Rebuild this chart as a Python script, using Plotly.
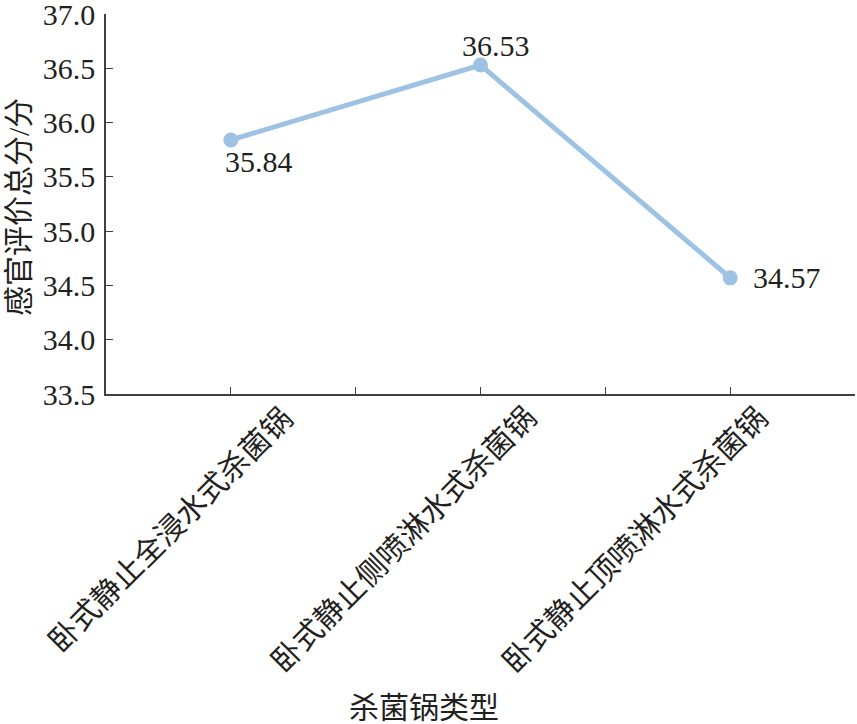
import plotly.graph_objects as go

categories = ["卧式静止全浸水式杀菌锅", "卧式静止侧喷淋水式杀菌锅", "卧式静止顶喷淋水式杀菌锅"]
scores = [35.84, 36.53, 34.57]
y_ticks = [33.5, 34.0, 34.5, 35.0, 35.5, 36.0, 36.5, 37.0]

# label placement styles (pixels)
label_shift_x = [28, 15, 57]
label_shift_y = [-22, 20, 0]
cat_label_shift_x = [68, 62, 44]

y_title = "感官评价总分/分"
x_title = "杀菌锅类型"

FONT = "Liberation Serif, Times New Roman, Noto Sans CJK SC, serif"
TXT = "#231f20"
LINE = "#9dc2e4"
AX = "#404040"

xpos = list(range(len(categories)))

fig = go.Figure()
fig.add_trace(go.Scatter(
    x=xpos, y=scores, mode="lines+markers",
    line=dict(color=LINE, width=5),
    marker=dict(color=LINE, size=15),
    showlegend=False, hoverinfo="skip",
))

for x, v, dx, dy in zip(xpos, scores, label_shift_x, label_shift_y):
    fig.add_annotation(x=x, y=v, text=f"{v:.2f}", showarrow=False,
                       xshift=dx, yshift=dy,
                       font=dict(family=FONT, size=30, color=TXT))

for x, c, dx in zip(xpos, categories, cat_label_shift_x):
    fig.add_annotation(x=x, xref="x", y=0, yref="paper", text=c, showarrow=False,
                       textangle=-45, xanchor="right", yanchor="top",
                       xshift=dx, yshift=-7, borderpad=0, borderwidth=0,
                       font=dict(family=FONT, size=30, color=TXT))

fig.add_annotation(xref="paper", yref="paper", x=0.425, y=-0.826,
                   text=x_title, showarrow=False, xanchor="center", yanchor="middle",
                   font=dict(family=FONT, size=30, color=TXT))

fig.add_annotation(xref="paper", yref="paper", x=-0.1175, y=0.492,
                   text=y_title, showarrow=False, xanchor="center", yanchor="middle",
                   textangle=-90,
                   font=dict(family=FONT, size=30, color=TXT))

fig.update_layout(
    width=857, height=724,
    margin=dict(l=106, r=2, t=14, b=330),
    paper_bgcolor="white", plot_bgcolor="white",
    font=dict(family=FONT, size=30, color=TXT),
)
fig.update_xaxes(
    range=[-0.5, 2.5], tickvals=xpos, showticklabels=False, automargin=False,
    showgrid=False, zeroline=False,
    showline=True, linecolor=AX, linewidth=1.5,
    ticks="inside", ticklen=7, tickwidth=1.2, tickcolor=AX,
    minor=dict(ticks="inside", dtick=0.5, tick0=0, ticklen=7, tickwidth=1.2, tickcolor=AX, showgrid=False),
)
fig.update_yaxes(
    range=[33.5, 37.0], tickvals=y_ticks, ticktext=[f"{t:.1f}" for t in y_ticks],
    automargin=False, ticklabeloverflow="allow",
    showgrid=False, zeroline=False,
    showline=True, linecolor=AX, linewidth=1.5,
    ticks="inside", ticklen=7, tickwidth=1.2, tickcolor=AX,
    ticklabelstandoff=3,
    tickfont=dict(family=FONT, size=30, color=TXT),
)

fig.write_html("out.html", config={"displayModeBar": False},
               post_script="document.body.style.margin='0';document.body.style.overflow='hidden';")
